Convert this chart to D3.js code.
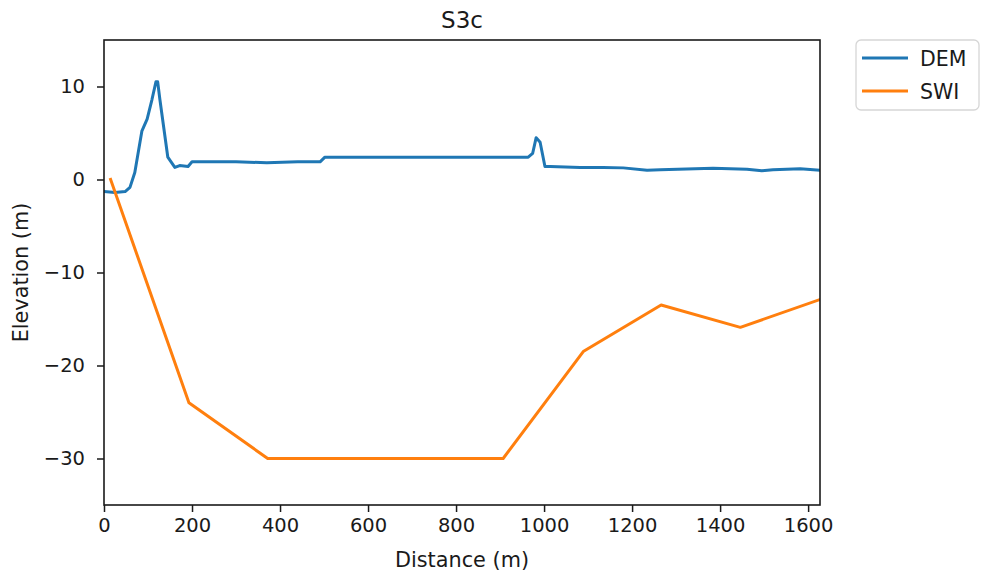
<!DOCTYPE html>
<html>
<head>
<meta charset="utf-8">
<script src="https://cdn.jsdelivr.net/npm/d3@7"></script>
<style>
  body { margin: 0; background: #fff; }
  text { font-family: "DejaVu Sans", sans-serif; }
</style>
</head>
<body>
<svg id="chart"></svg>
<script>
// DEM profile (distance m, elevation m)
const demDist = [0, 25, 48, 59, 70, 86, 98, 109, 118, 122, 127, 145, 161, 172, 191, 200, 300, 370, 440, 491, 502, 600, 800, 964, 974, 982, 991, 1002, 1014, 1082, 1134, 1180, 1234, 1264, 1384, 1461, 1495, 1520, 1582, 1627];
const demElev = [-1.3, -1.4, -1.3, -0.85, 0.75, 5.2, 6.5, 8.6, 10.5, 10.5, 8.6, 2.4, 1.3, 1.5, 1.4, 1.9, 1.9, 1.8, 1.9, 1.9, 2.4, 2.4, 2.4, 2.4, 2.8, 4.5, 4.0, 1.4, 1.4, 1.3, 1.3, 1.25, 1.0, 1.05, 1.2, 1.1, 0.95, 1.05, 1.15, 1.0];
// SWI interface depth
const swiDist = [15, 193, 372, 907, 1089, 1266, 1446, 1627];
const swiElev = [0, -24, -30, -30, -18.5, -13.5, -15.9, -12.9];

const xTicks = [0, 200, 400, 600, 800, 1000, 1200, 1400, 1600];
const yTicks = [-30, -20, -10, 0, 10];
const seriesNames = ["DEM", "SWI"];
const seriesColors = ["#1f77b4", "#ff7f0e"];

const width = 981, height = 575;
const margin = {top: 40, right: 161, bottom: 70, left: 104};
const plotW = width - margin.left - margin.right;
const plotH = height - margin.top - margin.bottom;
const ink = "#1a1a1a";

const svg = d3.select("#chart")
    .attr("width", width)
    .attr("height", height);

const g = svg.append("g")
    .attr("transform", `translate(${margin.left}, ${margin.top})`);

const x = d3.scaleLinear().domain([0, 1627]).range([0, plotW]);
const y = d3.scaleLinear().domain([-35, 15]).range([plotH, 0]);

const line = d3.line()
    .x(d => x(d[0]))
    .y(d => y(d[1]));

const series = [
    d3.zip(demDist, demElev),
    d3.zip(swiDist, swiElev)
];

g.append("defs").append("clipPath")
    .attr("id", "clip")
    .append("rect")
    .attr("width", plotW)
    .attr("height", plotH);

g.append("g")
    .attr("clip-path", "url(#clip)")
    .selectAll("path")
    .data(series)
    .join("path")
    .attr("d", line)
    .attr("fill", "none")
    .attr("stroke", (_, i) => seriesColors[i])
    .attr("stroke-width", 3)
    .attr("stroke-linejoin", "round")
    .attr("stroke-linecap", "square");

// axes
const xAxis = g.append("g")
    .attr("transform", `translate(0, ${plotH})`)
    .call(d3.axisBottom(x).tickValues(xTicks).tickSize(7).tickPadding(6).tickFormat(d3.format("d")));
const yAxis = g.append("g")
    .call(d3.axisLeft(y).tickValues(yTicks).tickSize(7).tickPadding(12).tickFormat(d => d < 0 ? "\u2212" + Math.abs(d) : d));

[xAxis, yAxis].forEach(a => {
    a.select(".domain").remove();
    a.selectAll("text").attr("font-size", 19.5).attr("fill", ink).attr("font-family", "DejaVu Sans");
    a.selectAll("line").attr("stroke", ink).attr("stroke-width", 1.5);
});

g.append("rect")
    .attr("width", plotW)
    .attr("height", plotH)
    .attr("fill", "none")
    .attr("stroke", ink)
    .attr("stroke-width", 1.6);

// labels
svg.append("text")
    .attr("x", margin.left + plotW / 2)
    .attr("y", 28)
    .attr("text-anchor", "middle")
    .attr("font-size", 23)
    .attr("fill", ink)
    .text("S3c");

svg.append("text")
    .attr("x", margin.left + plotW / 2)
    .attr("y", 567)
    .attr("text-anchor", "middle")
    .attr("font-size", 20.8)
    .attr("fill", ink)
    .text("Distance (m)");

svg.append("text")
    .attr("transform", `translate(28, ${margin.top + plotH / 2}) rotate(-90)`)
    .attr("text-anchor", "middle")
    .attr("font-size", 20.8)
    .attr("fill", ink)
    .text("Elevation (m)");

// legend
const legend = svg.append("g")
    .attr("transform", "translate(856, 40)");
legend.append("rect")
    .attr("width", 123)
    .attr("height", 70)
    .attr("rx", 5)
    .attr("fill", "#fff")
    .attr("stroke", "#d6d6d6")
    .attr("stroke-width", 1.3);
const items = legend.selectAll(".item")
    .data(seriesNames)
    .join("g")
    .attr("transform", (_, i) => `translate(0, ${18 + i * 33})`);
items.append("line")
    .attr("x1", 6).attr("x2", 52)
    .attr("stroke", (_, i) => seriesColors[i])
    .attr("stroke-width", 3);
items.append("text")
    .attr("x", 64)
    .attr("y", 7.5)
    .attr("font-size", 20.5)
    .attr("fill", ink)
    .text(d => d);
</script>
</body>
</html>
